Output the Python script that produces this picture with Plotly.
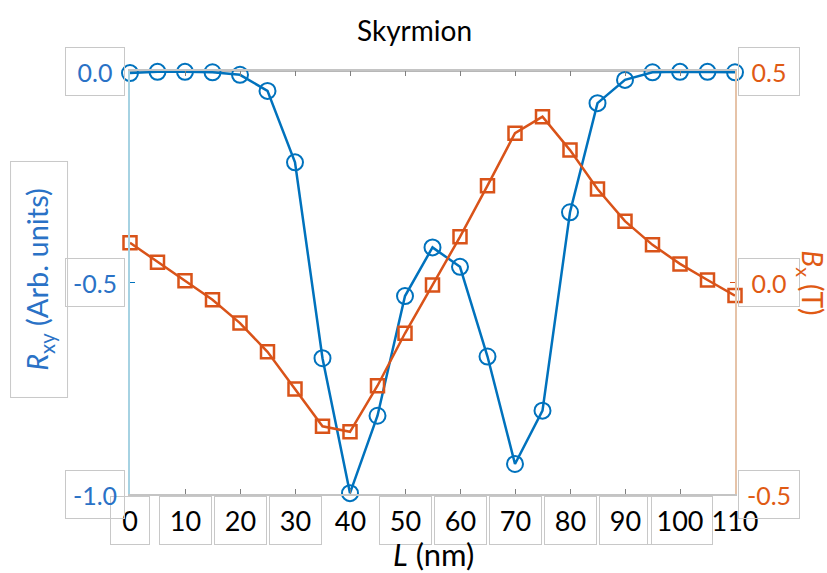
import plotly.graph_objects as go

# ---- data ----
L_nm = [0, 5, 10, 15, 20, 25, 30, 35, 40, 45, 50, 55, 60, 65, 70, 75, 80, 85, 90, 95, 100, 105, 110]
R_xy = [-0.005, -0.002, -0.002, -0.003, -0.009, -0.047, -0.216, -0.679, -0.998, -0.815, -0.532, -0.417,
        -0.463, -0.675, -0.929, -0.803, -0.334, -0.076, -0.021, -0.003, -0.002, -0.002, -0.003]
B_x = [0.094, 0.048, 0.004, -0.041, -0.096, -0.164, -0.252, -0.340, -0.353, -0.244, -0.120, -0.006,
       0.108, 0.229, 0.353, 0.392, 0.313, 0.221, 0.145, 0.089, 0.044, 0.006, -0.031]

x_ticks = [0, 10, 20, 30, 40, 50, 60, 70, 80, 90, 100, 110]
x_tick_text = ["0", "10", "20", "30", "40", "50", "60", "70", "80", "90", "100", "110"]
x_tick_boxed = [True, True, True, True, False, True, True, True, True, True, True, False]
left_ticks = [0.0, -0.5, -1.0]
left_tick_text = ["0.0", "-0.5", "-1.0"]
right_ticks = [0.5, 0.0, -0.5]
right_tick_text = ["0.5", "0.0", "-0.5"]

BLUE = "#0072BD"
ORANGE = "#D95319"
BLUE_TXT = "#2a72c6"
ORANGE_TXT = "#e05a14"
FONT = "Lato"
BOX = "#c8c8c8"

fig = go.Figure()
fig.add_trace(go.Scatter(
    x=L_nm, y=R_xy, mode="lines+markers", yaxis="y", cliponaxis=False,
    line=dict(color=BLUE, width=2.5),
    marker=dict(symbol="circle-open", size=16, color=BLUE, line=dict(width=2, color=BLUE)),
    showlegend=False))
fig.add_trace(go.Scatter(
    x=L_nm, y=B_x, mode="lines+markers", yaxis="y2", cliponaxis=False,
    line=dict(color=ORANGE, width=2.5),
    marker=dict(symbol="square-open", size=13, color=ORANGE, line=dict(width=2.5, color=ORANGE)),
    showlegend=False))

annotations = []
# x tick labels
for v, t, b in zip(x_ticks, x_tick_text, x_tick_boxed):
    w = 36 if len(t) == 1 else (62 if len(t) == 3 else 49)
    annotations.append(dict(
        x=v, y=-0.0615, xref="x", yref="paper", text=t, showarrow=False,
        font=dict(family=FONT, size=27, color="black"),
        width=w, height=45, bordercolor=BOX if b else "rgba(0,0,0,0)", borderwidth=1,
        xanchor="center", yanchor="middle"))
# left tick labels
for v, t in zip(left_ticks, left_tick_text):
    annotations.append(dict(
        x=-0.058, y=v, xref="paper", yref="y", text=t, showarrow=False,
        font=dict(family=FONT, size=25, color=BLUE_TXT),
        width=56, height=45, bordercolor=BOX, borderwidth=1,
        xanchor="center", yanchor="middle"))
# right tick labels
for v, t in zip(right_ticks, right_tick_text):
    annotations.append(dict(
        x=1.056, y=v, xref="paper", yref="y2", text=t, showarrow=False,
        font=dict(family=FONT, size=25, color=ORANGE_TXT),
        width=58, height=45, bordercolor=BOX, borderwidth=1,
        xanchor="center", yanchor="middle"))
# axis titles
annotations.append(dict(
    x=-0.1504, y=0.506, xref="paper", yref="paper", showarrow=False,
    text="<i>R</i><sub>xy</sub> (Arb. units)", textangle=-90,
    font=dict(family=FONT, size=29, color=BLUE_TXT),
    width=233, height=54, bordercolor=BOX, borderwidth=1,
    xanchor="center", yanchor="middle"))
annotations.append(dict(
    x=1.125, y=0.499, xref="paper", yref="paper", showarrow=False,
    text="<i>B</i><sub>x</sub> (T)", textangle=90,
    font=dict(family=FONT, size=28, color=ORANGE_TXT),
    xanchor="center", yanchor="middle"))
annotations.append(dict(
    x=0.501, y=-0.142, xref="paper", yref="paper", showarrow=False,
    text="<i>L</i> (nm)", font=dict(family=FONT, size=31, color="black"),
    xanchor="center", yanchor="middle"))
annotations.append(dict(
    x=0.471, y=1.097, xref="paper", yref="paper", showarrow=False,
    text="Skyrmion", font=dict(family=FONT, size=28, color="black"),
    xanchor="center", yanchor="middle"))

fig.update_layout(
    width=827, height=573,
    margin=dict(l=130, r=92, t=71, b=79, pad=0),
    paper_bgcolor="white", plot_bgcolor="white",
    font=dict(family=FONT),
    xaxis=dict(range=[0, 110], showgrid=False, zeroline=False,
               showline=True, linecolor="#c4c4c4", linewidth=1.5, mirror="ticks",
               ticks="inside", ticklen=5, tickcolor="#808080", tickwidth=1,
               tickvals=x_ticks[1:-1], showticklabels=False),
    yaxis=dict(range=[-1, 0], showgrid=False, zeroline=False,
               showline=True, linecolor="#a6d2e2", linewidth=1.5,
               ticks="inside", ticklen=5, tickcolor=BLUE, tickvals=[-0.5],
               showticklabels=False),
    yaxis2=dict(range=[-0.5, 0.5], overlaying="y", side="right", anchor="x",
                showgrid=False, zeroline=False,
                showline=True, linecolor="#e6c3a8", linewidth=1.5,
                ticks="inside", ticklen=5, tickcolor=ORANGE, tickvals=[0.0],
                showticklabels=False),
    annotations=annotations,
    shapes=[dict(type="line", xref="paper", yref="paper", x0=0, x1=1, y0=1, y1=1,
                 line=dict(color="#707070", width=1), layer="below")],
)

fig.write_html("out.html", config={"displayModeBar": False},
               post_script="document.body.style.margin='0';document.body.style.overflow='hidden';")
